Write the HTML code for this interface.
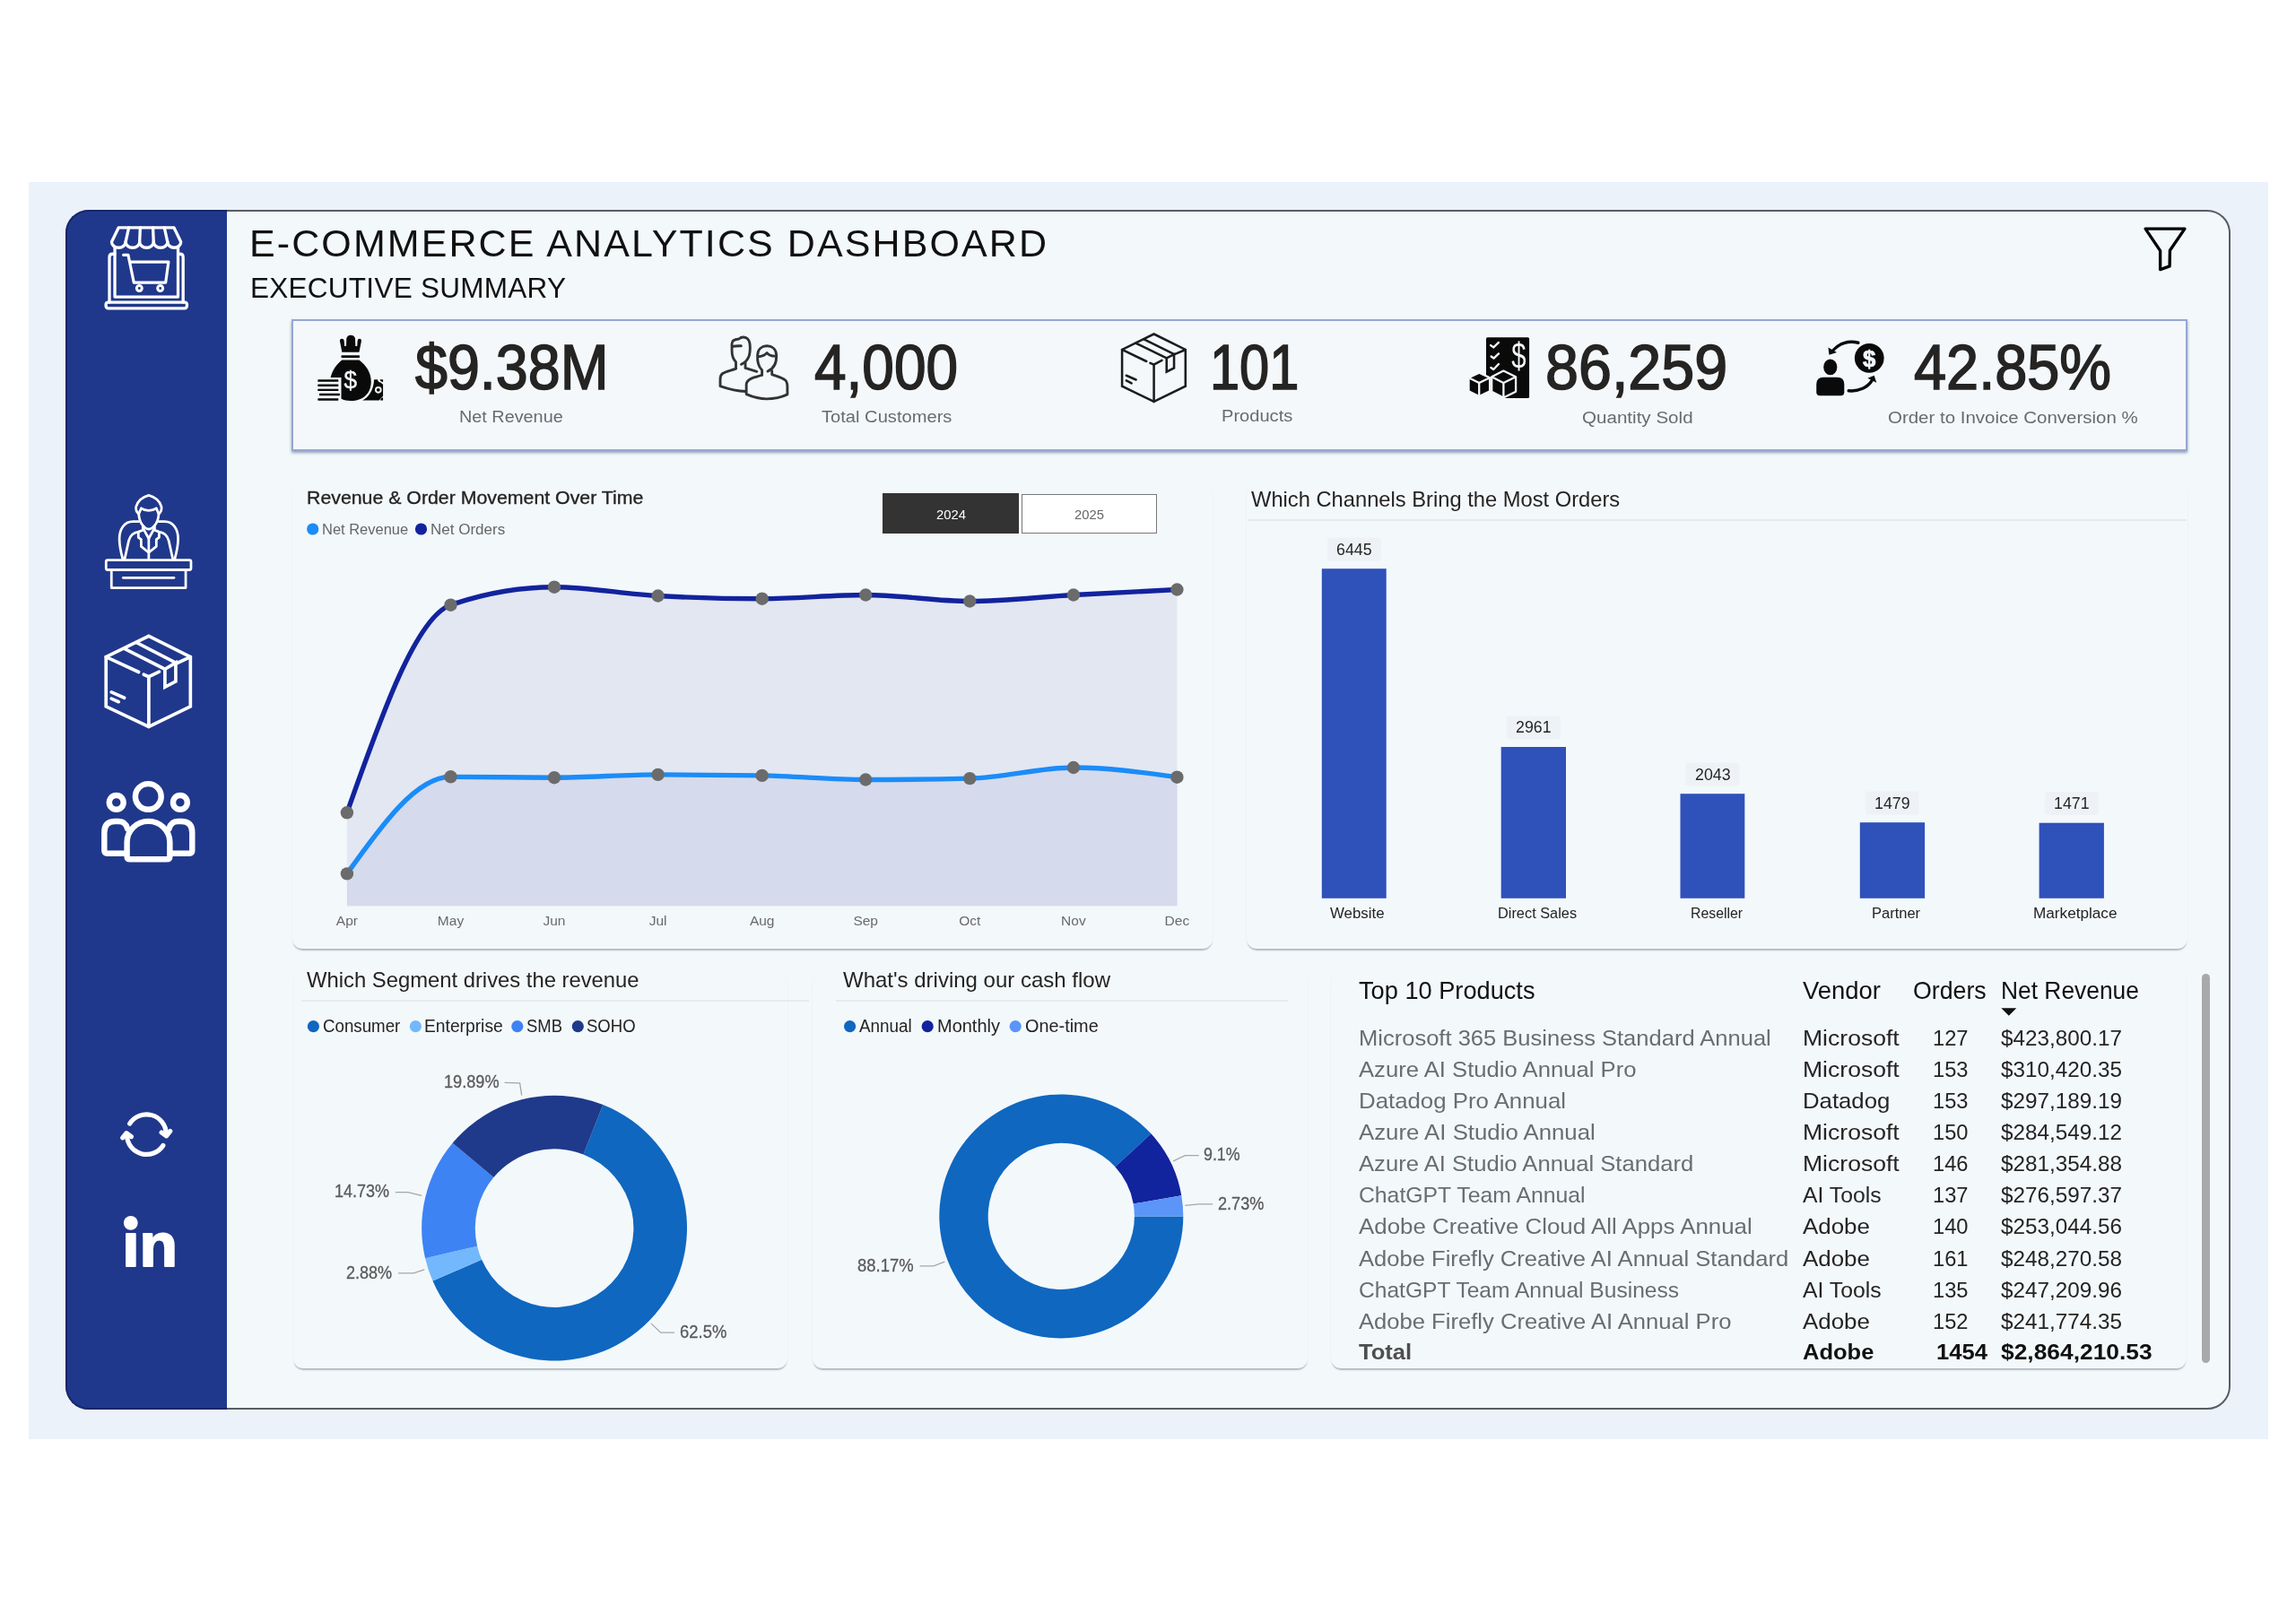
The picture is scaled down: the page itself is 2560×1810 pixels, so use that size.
<!DOCTYPE html>
<html lang="en"><head><meta charset="utf-8"><title>E-Commerce Analytics Dashboard - Executive Summary</title>
<style>
html,body{margin:0;padding:0}
body{width:2560px;height:1810px;position:relative;overflow:hidden;background:#ffffff;font-family:"Liberation Sans", Arial, sans-serif}
.abs,.ic,.t,.card{position:absolute}
.ic{overflow:visible}
.t{white-space:nowrap;line-height:1;transform-origin:0 50%}
#outer{left:32px;top:203px;width:2497px;height:1402px;background:#ebf2fa}
#frame{left:73px;top:234px;width:2414px;height:1338px;box-sizing:border-box;border:2px solid #565d64;border-radius:26px;background:#f3f8fb}
#side{left:72.5px;top:234px;width:180px;height:1338px;box-sizing:border-box;background:#20388b;border:2px solid #17276c;border-right:0;border-radius:26px 0 0 26px}
#kpi{left:325px;top:356px;width:2114px;height:147px;box-sizing:border-box;border:2px solid #96a7d1;background:#f4f8fb;box-shadow:0 2px 3px rgba(70,85,130,.55)}
.card{border-radius:11px;box-shadow:0 2.5px 1.5px -1px rgba(110,120,130,.48),1.5px 0 2px -1.5px rgba(0,0,0,.06),-1.5px 0 2px -1.5px rgba(0,0,0,.06)}
.hr{position:absolute;height:1.5px;background:#e6eaee}
#texts{position:absolute;left:0;top:0;width:2560px;height:1810px;will-change:transform}
.btn{position:absolute;box-sizing:border-box;top:550px;height:45px}
</style></head><body>
<div id="outer" class="abs"></div>
<div id="frame" class="abs"></div>
<div id="side" class="abs"></div>
<div id="kpi" class="abs"></div>
<div class="card" style="left:326px;top:540px;width:1025.5px;height:517.5px"></div>
<div class="card" style="left:1390px;top:540px;width:1049px;height:517.5px"></div>
<div class="card" style="left:327px;top:1085px;width:551px;height:441px"></div>
<div class="card" style="left:905.5px;top:1085px;width:552.5px;height:441px"></div>
<div class="card" style="left:1483.5px;top:1085px;width:954px;height:441px"></div>
<div class="hr" style="left:1391px;top:579px;width:1047px"></div>
<div class="hr" style="left:336px;top:1115px;width:566px"></div>
<div class="hr" style="left:931.5px;top:1115px;width:504px"></div>
<div class="btn" style="left:984px;width:151.8px;background:#333333"></div>
<div class="btn" style="left:1139px;top:551px;height:43.6px;width:151px;background:#ffffff;border:1.6px solid #787878"></div>
<div class="abs" style="left:2455px;top:1086px;width:9px;height:434px;border-radius:4.5px;background:#a9a9a9"></div>
<svg class="ic" style="left:0;top:0" width="2560" height="1810" viewBox="0 0 2560 1810">
<path d="M386.9 906.3C425.4 797.2 464.0 688.0 502.5 674.7C541.0 661.4 579.5 654.7 618.0 654.7C656.5 654.7 695.1 662.4 733.6 664.5C772.3 666.6 811.0 667.7 849.7 667.7C888.2 667.7 926.7 663.5 965.2 663.5C1003.9 663.5 1042.6 670.5 1081.3 670.5C1119.8 670.5 1158.4 665.7 1196.9 663.5C1235.4 661.3 1273.9 659.4 1312.4 657.5L1312.4 1010.3L386.9 1010.3Z" fill="#e3e7f1"/>
<path d="M386.9 974.4C425.4 920.4 464.0 866.3 502.5 866.3C541.0 866.3 579.5 867.2 618.0 867.2C656.5 867.2 695.1 863.9 733.6 863.9C772.3 863.9 811.0 864.2 849.7 864.9C888.2 865.6 926.7 869.5 965.2 869.5C1003.9 869.5 1042.6 869.0 1081.3 868.1C1119.8 867.2 1158.4 856.0 1196.9 856.0C1235.4 856.0 1273.9 861.4 1312.4 866.7L1312.4 1010.3L386.9 1010.3Z" fill="#d5daec"/>
<path d="M386.9 906.3C425.4 797.2 464.0 688.0 502.5 674.7C541.0 661.4 579.5 654.7 618.0 654.7C656.5 654.7 695.1 662.4 733.6 664.5C772.3 666.6 811.0 667.7 849.7 667.7C888.2 667.7 926.7 663.5 965.2 663.5C1003.9 663.5 1042.6 670.5 1081.3 670.5C1119.8 670.5 1158.4 665.7 1196.9 663.5C1235.4 661.3 1273.9 659.4 1312.4 657.5" fill="none" stroke="#12239e" stroke-width="5.4" stroke-linecap="round"/>
<path d="M386.9 974.4C425.4 920.4 464.0 866.3 502.5 866.3C541.0 866.3 579.5 867.2 618.0 867.2C656.5 867.2 695.1 863.9 733.6 863.9C772.3 863.9 811.0 864.2 849.7 864.9C888.2 865.6 926.7 869.5 965.2 869.5C1003.9 869.5 1042.6 869.0 1081.3 868.1C1119.8 867.2 1158.4 856.0 1196.9 856.0C1235.4 856.0 1273.9 861.4 1312.4 866.7" fill="none" stroke="#1b8cf8" stroke-width="5.4" stroke-linecap="round"/>
<g fill="#6b6b6b"><circle cx="386.9" cy="906.3" r="7.2"/><circle cx="502.5" cy="674.7" r="7.2"/><circle cx="618" cy="654.7" r="7.2"/><circle cx="733.6" cy="664.5" r="7.2"/><circle cx="849.7" cy="667.7" r="7.2"/><circle cx="965.2" cy="663.5" r="7.2"/><circle cx="1081.3" cy="670.5" r="7.2"/><circle cx="1196.9" cy="663.5" r="7.2"/><circle cx="1312.4" cy="657.5" r="7.2"/><circle cx="386.9" cy="974.4" r="7.2"/><circle cx="502.5" cy="866.3" r="7.2"/><circle cx="618" cy="867.2" r="7.2"/><circle cx="733.6" cy="863.9" r="7.2"/><circle cx="849.7" cy="864.9" r="7.2"/><circle cx="965.2" cy="869.5" r="7.2"/><circle cx="1081.3" cy="868.1" r="7.2"/><circle cx="1196.9" cy="856.0" r="7.2"/><circle cx="1312.4" cy="866.7" r="7.2"/></g><g fill="#2f51ba"><rect x="1473.8" y="634.2" width="71.9" height="367.6"/><rect x="1673.7" y="833.0" width="72.3" height="168.8"/><rect x="1873.5" y="885.2" width="71.8" height="116.6"/><rect x="2073.8" y="917.2" width="72.3" height="84.6"/><rect x="2273.6" y="917.7" width="72.3" height="84.1"/></g><g fill="#eef2f6"><rect x="1479.8" y="599.6" width="60" height="26" rx="4"/><rect x="1679.8" y="798.4" width="60" height="26" rx="4"/><rect x="1879.4" y="850.6" width="60" height="26" rx="4"/><rect x="2079.9" y="882.6" width="60" height="26" rx="4"/><rect x="2279.8" y="883.1" width="60" height="26" rx="4"/></g><path d="M672.31 1231.99A147.9 147.9 0 1 1 482.47 1428.57L537.12 1404.81A88.3 88.3 0 1 0 650.46 1287.44Z" fill="#0f67c0"/><path d="M482.47 1428.57A147.9 147.9 0 0 1 474.07 1403.20L532.11 1389.66A88.3 88.3 0 0 0 537.12 1404.81Z" fill="#73b8fc"/><path d="M474.07 1403.20A147.9 147.9 0 0 1 504.63 1274.74L550.36 1312.96A88.3 88.3 0 0 0 532.11 1389.66Z" fill="#3d83f4"/><path d="M504.63 1274.74A147.9 147.9 0 0 1 672.31 1231.99L650.46 1287.44A88.3 88.3 0 0 0 550.36 1312.96Z" fill="#1f3a8a"/><path d="M1319.30 1356.40A136.0 136.0 0 1 1 1283.43 1264.37L1243.38 1301.18A81.6 81.6 0 1 0 1264.90 1356.40Z" fill="#0f67c0"/><path d="M1283.43 1264.37A136.0 136.0 0 0 1 1317.30 1333.19L1263.70 1342.47A81.6 81.6 0 0 0 1243.38 1301.18Z" fill="#12239e"/><path d="M1317.30 1333.19A136.0 136.0 0 0 1 1319.30 1356.40L1264.90 1356.40A81.6 81.6 0 0 0 1263.70 1342.47Z" fill="#5a95f7"/><g fill="none" stroke="#a6a6a6" stroke-width="1.3"><polyline points="562.6,1207.3 579.6,1207.9 581.7,1221.7"/><polyline points="440.9,1329.6 454.8,1329.6 470.2,1333.3"/><polyline points="444,1419.9 461,1419.9 473.3,1415.8"/><polyline points="725.9,1475.9 736.7,1486.1 752.1,1486.1"/><polyline points="1308.1,1294.8 1321.3,1288.6 1336.7,1288.6"/><polyline points="1321.3,1344.4 1336.7,1342.8 1352.1,1342.8"/><polyline points="1025.6,1411.8 1041,1411.8 1053.3,1407.2"/></g><circle cx="348.7" cy="590" r="6.6" fill="#1b8cf8"/><circle cx="469.5" cy="590" r="6.6" fill="#12239e"/><circle cx="349.4" cy="1144.7" r="6.6" fill="#0f67c0"/><circle cx="463.4" cy="1144.7" r="6.6" fill="#73b8fc"/><circle cx="576.8" cy="1144.7" r="6.6" fill="#3d83f4"/><circle cx="644.3" cy="1144.7" r="6.6" fill="#1f3a8a"/><circle cx="947.6" cy="1144.7" r="6.6" fill="#0f67c0"/><circle cx="1034.2" cy="1144.7" r="6.6" fill="#12239e"/><circle cx="1132.2" cy="1144.7" r="6.6" fill="#5a95f7"/><path d="M2231.3 1124.2H2248.3L2239.8 1132.7Z" fill="#111"/></svg>
<div id="texts">
<svg class="ic" style="left:105px;top:240px" width="120" height="115" viewBox="0 0 1694 1623" >
<g fill="none" stroke="#ffffff" stroke-width="47" stroke-linejoin="round" stroke-linecap="round">
<path d="M385 195H1255L1365 420A105 92 0 0 1 1155 420A110 92 0 0 1 935 420A110 92 0 0 1 715 420A110 92 0 0 1 495 420A110 92 0 0 1 275 420Z"/>
<path d="M545 195L495 420M725 195L715 420M925 195L935 420M1105 195L1155 420"/>
<path d="M325 500V1285H1320V500"/>
<path d="M325 610H290Q240 610 240 660V1370M1320 610H1350Q1400 610 1400 660V1370"/>
<rect x="185" y="1370" width="1275" height="95" rx="35"/>
<path d="M460 625H535L625 1060H1125L1170 735H570" stroke-width="45"/>
<circle cx="710" cy="1150" r="42" stroke-width="42"/>
<circle cx="1040" cy="1150" r="42" stroke-width="42"/>
</g></svg>
<svg class="ic" style="left:105px;top:540px" width="120" height="125" viewBox="0 0 1558 1623" >
<g fill="none" stroke="#ffffff" stroke-width="36" stroke-linejoin="round" stroke-linecap="round">
<path d="M645 430C610 400 600 360 607 325C625 250 700 180 790 160C880 180 955 250 973 325C980 360 970 400 935 430"/>
<path d="M680 350C740 390 840 390 900 350"/>
<path d="M680 350L645 430C650 500 670 560 705 600C740 640 770 652 790 652C810 652 840 640 875 600C910 560 930 500 935 430L900 350"/>
<path d="M645 540H560C430 540 365 660 365 790C365 900 390 1000 415 1090"/>
<path d="M935 540H1020C1150 540 1215 660 1215 790C1215 900 1190 1000 1165 1090"/>
<path d="M440 1090L500 820C520 740 570 700 640 690L705 665V600"/>
<path d="M1140 1090L1080 820C1060 740 1010 700 940 690L875 665V600"/>
<path d="M715 650L790 785L865 650"/>
<path d="M640 695V770L680 800V900L790 990L900 900V800L940 770V695"/>
<path d="M790 785V1090"/>
<rect x="172" y="1100" width="1230" height="140" rx="22"/>
<path d="M250 1240V1500H1325V1240"/>
<path d="M420 1355H1155"/>
</g></svg>
<svg class="ic" style="left:105px;top:695px" width="120" height="130" viewBox="0 0 1498 1623" >
<g fill="none" stroke="#ffffff" stroke-width="46" stroke-linejoin="miter" stroke-linecap="round">
<path d="M760 180L1340 470V1160L760 1440L165 1160V470Z"/>
<path d="M165 470L620 680M690 715L760 745L905 675M1135 565L1340 470"/>
<path d="M760 745V1440"/>
<path d="M590 270L1135 550M420 355L985 640"/>
<path d="M985 640V890L1135 810V550L985 640"/>
<path d="M240 960L420 1040M240 1050L340 1095"/></g></svg>
<svg class="ic" style="left:105px;top:860px" width="120" height="110" viewBox="0 0 1771 1623" >
<g fill="none" stroke="#ffffff" stroke-width="95" stroke-linejoin="round" stroke-linecap="round">
<circle cx="890" cy="420" r="212"/>
<circle cx="365" cy="515" r="117"/>
<circle cx="1415" cy="515" r="117"/>
<path d="M540 1400V1170A352 345 0 0 1 1245 1170V1400Q1245 1450 1195 1450H590Q540 1450 540 1400Z"/>
<path d="M520 1353H215Q167 1353 167 1305V1010Q167 827 345 827H400Q520 827 548 950"/>
<path d="M1260 1353H1565Q1613 1353 1613 1305V1010Q1613 827 1435 827H1380Q1260 827 1232 950"/>
</g></svg>
<svg class="ic" style="left:120px;top:1225px" width="90" height="80" viewBox="0 0 1826 1623" >
<g fill="none" stroke="#ffffff" stroke-width="105" stroke-linejoin="round" stroke-linecap="round">
<path d="M500 570A447 447 0 0 1 1325 800"/>
<path d="M1255 1065A447 447 0 0 1 435 840"/>
<path d="M1220 770L1330 850L1415 740"/>
<path d="M340 890L425 785L535 865"/>
</g></svg>
<svg class="ic" style="left:120px;top:1340px" width="90" height="90" viewBox="0 0 1623 1623" >
<text x="293" y="1292" font-family="Liberation Sans, Arial, sans-serif" font-weight="700" font-size="1230" fill="#ffffff" stroke="#ffffff" stroke-width="36" stroke-linejoin="round" textLength="1114" lengthAdjust="spacingAndGlyphs">in</text>
<rect x="330" y="250" width="300" height="330" fill="#20388b"/>
<circle cx="465" cy="430" r="142" fill="#ffffff"/></svg>
<svg class="ic" style="left:2340px;top:200px" width="220" height="170" viewBox="0 0 2100 1623" >
<path d="M497 526H916L758 757L755 925L655 960V760Z" fill="none" stroke="#000" stroke-width="32" stroke-linejoin="round"/></svg>
<svg class="ic" style="left:345px;top:365px" width="90" height="90" viewBox="0 0 1623 1623" >
<g fill="#0a0a0a">
<path d="M655 500L612 275Q610 235 650 232Q695 235 698 270L705 380H740L745 225Q760 165 830 160Q905 165 920 225L925 380H960L967 270Q970 235 1010 232Q1048 235 1045 275L1000 500Z"/>
<rect x="640" y="565" width="370" height="46" rx="12"/>
<path d="M655 660H1000C1130 760 1240 900 1240 1090C1240 1330 1080 1480 830 1480C760 1480 690 1465 640 1440V1010H425C470 850 550 740 655 660Z"/>
<rect x="168" y="1052" width="415" height="44" rx="10"/>
<rect x="168" y="1145" width="415" height="44" rx="10"/>
<rect x="168" y="1238" width="415" height="44" rx="10"/>
<rect x="198" y="1332" width="415" height="44" rx="10"/>
<rect x="168" y="1428" width="415" height="44" rx="10"/>
<path d="M1300 1050H1370C1375 1085 1400 1105 1430 1110L1480 1150V1385L1400 1470H1065C1200 1400 1290 1260 1300 1050Z"/>
<path d="M1415 1050H1480V1105Q1425 1100 1415 1050Z"/>
<path d="M1480 1410V1470H1425Q1430 1420 1480 1410Z"/>
</g>
<circle cx="1385" cy="1260" r="52" fill="none" stroke="#f4f8fb" stroke-width="34"/>
<text x="825" y="1222" text-anchor="middle" font-family="Liberation Sans, Arial, sans-serif" font-size="515" fill="#f4f8fb" stroke="#f4f8fb" stroke-width="7" textLength="262" lengthAdjust="spacingAndGlyphs">$</text></svg>
<svg class="ic" style="left:795px;top:365px" width="90" height="90" viewBox="0 0 1623 1623" >
<g fill="none" stroke="#333333" stroke-width="52" stroke-linejoin="round" stroke-linecap="round">
<path d="M460 830V700C400 640 380 560 380 470V330C380 260 440 240 520 235C560 200 620 195 660 210C720 235 745 300 745 400C745 520 740 660 570 745"/>
<path d="M390 385C430 378 500 370 565 375"/>
<path d="M650 715V820L880 890"/>
<path d="M460 830C350 870 250 890 190 930C150 960 145 1000 145 1050V1185C300 1240 450 1285 660 1290"/>
<path d="M985 960V860C900 780 890 650 895 560C900 430 990 375 1085 375C1180 375 1270 430 1275 560C1280 700 1250 820 1100 885"/>
<path d="M910 590C980 590 1040 560 1085 515C1120 560 1180 580 1250 580"/>
<path d="M1185 880V950C1300 990 1400 1020 1450 1060C1490 1095 1495 1150 1495 1200V1350C1350 1420 1200 1440 1075 1440C950 1440 800 1400 670 1345V1150C670 1080 720 1050 790 1020C850 1000 930 980 985 960"/>
</g></svg>
<svg class="ic" style="left:1240px;top:365px" width="95" height="90" viewBox="0 0 1713 1623" >
<g fill="none" stroke="#1c1c1c" stroke-width="46" stroke-linejoin="miter" stroke-linecap="round">
<path d="M840 135L1475 450V1185L840 1495L200 1185V450Z"/>
<path d="M200 450L690 685M765 720L840 750L1000 665M1255 542L1475 450"/>
<path d="M840 750V1495"/>
<path d="M640 240L1250 545M480 320L1095 620"/>
<path d="M1095 620V895L1245 820V545L1095 620"/>
<path d="M285 970L480 1055M285 1070L390 1125"/>
</g></svg>
<svg class="ic" style="left:1628px;top:368px" width="86" height="84" viewBox="0 0 1662 1623" >
<rect x="560" y="160" width="930" height="1310" rx="30" fill="#0a0a0a"/>
<g fill="none" stroke="#f4f8fb" stroke-width="46" stroke-linecap="round" stroke-linejoin="round">
<path d="M660 330L720 375L830 270M670 570L725 610L830 510M665 810L720 850L830 735"/>
</g>
<text x="1265" y="838" text-anchor="middle" font-family="Liberation Sans, Arial, sans-serif" font-size="790" fill="#f4f8fb" textLength="315" lengthAdjust="spacingAndGlyphs">$</text>
<path d="M530 1320L680 1330L935 1460L1005 1490H530Z" fill="#f4f8fb"/>
<g fill="#0a0a0a" stroke="#f4f8fb" stroke-width="44" stroke-linejoin="round">
<path d="M935 880L1200 1010V1330L935 1460L680 1330V1010Z"/>
<path d="M410 920L640 1030V1320L410 1430L185 1320V1030Z"/>
<path d="M680 1010L935 1140L1200 1010M935 1140V1460" fill="none"/>
<path d="M185 1030L410 1140L640 1030M410 1140V1430" fill="none"/>
</g></svg>
<svg class="ic" style="left:2018px;top:368px" width="90" height="84" viewBox="0 0 1739 1623" >
<g fill="#0a0a0a">
<ellipse cx="440" cy="800" rx="146" ry="172"/>
<path d="M290 1020H590Q740 1020 740 1170V1340Q740 1415 665 1415H215Q140 1415 140 1340V1170Q140 1020 290 1020Z"/>
<circle cx="1280" cy="605" r="316"/>
<path d="M395 375L580 485L415 535Z"/>
<path d="M1245 1040L1385 980L1435 1135Z"/>
</g>
<g fill="none" stroke="#0a0a0a" stroke-width="66" stroke-linecap="round">
<path d="M1040 275C830 220 620 290 490 450"/>
<path d="M835 1310C1050 1330 1250 1240 1345 1075"/>
</g>
<text x="1280" y="790" text-anchor="middle" font-family="Liberation Sans, Arial, sans-serif" font-weight="700" font-size="500" fill="#f4f8fb" stroke="#f4f8fb" stroke-width="14">$</text></svg>
<span class="t" id="t0" style="font-size:43px;color:#111111;top:249.70px;letter-spacing:2.094px;left:278.00px;">E-COMMERCE ANALYTICS DASHBOARD</span>
<span class="t" id="t1" style="font-size:31.5px;color:#111111;top:305.74px;letter-spacing:0.267px;left:279.00px;">EXECUTIVE SUMMARY</span>
<span class="t" id="t2" style="font-size:70px;color:#252423;top:374.94px;-webkit-text-stroke:1.6px #252423;transform:scaleX(0.9230);left:463.00px;">$9.38M</span>
<span class="t" id="t3" style="font-size:70px;color:#252423;top:374.94px;-webkit-text-stroke:1.6px #252423;transform:scaleX(0.9134);left:908.00px;">4,000</span>
<span class="t" id="t4" style="font-size:70px;color:#252423;top:374.94px;-webkit-text-stroke:1.6px #252423;transform:scaleX(0.8502);left:1349.20px;">101</span>
<span class="t" id="t5" style="font-size:70px;color:#252423;top:374.94px;-webkit-text-stroke:1.6px #252423;transform:scaleX(0.9490);left:1723.00px;">86,259</span>
<span class="t" id="t6" style="font-size:70px;color:#252423;top:374.94px;-webkit-text-stroke:1.6px #252423;transform:scaleX(0.9266);left:2133.50px;">42.85%</span>
<span class="t" id="t7" style="font-size:19.2px;color:#666b6f;top:455.25px;transform:scaleX(1.0330);left:512.00px;">Net Revenue</span>
<span class="t" id="t8" style="font-size:19.2px;color:#666b6f;top:455.45px;transform:scaleX(1.0489);left:915.70px;">Total Customers</span>
<span class="t" id="t9" style="font-size:19.2px;color:#666b6f;top:453.85px;transform:scaleX(1.0471);left:1362.30px;">Products</span>
<span class="t" id="t10" style="font-size:19.2px;color:#666b6f;top:455.95px;transform:scaleX(1.0729);left:1763.70px;">Quantity Sold</span>
<span class="t" id="t11" style="font-size:19.2px;color:#666b6f;top:455.95px;transform:scaleX(1.0667);left:2104.90px;">Order to Invoice Conversion %</span>
<span class="t" id="t12" style="font-size:20.5px;color:#252423;top:544.85px;-webkit-text-stroke:0.35px #252423;transform:scaleX(1.0394);left:341.70px;">Revenue &amp; Order Movement Over Time</span>
<span class="t" id="t13" style="font-size:17px;color:#666666;top:581.71px;transform:scaleX(0.9694);left:358.90px;">Net Revenue</span>
<span class="t" id="t14" style="font-size:17px;color:#666666;top:581.71px;left:480.00px;">Net Orders</span>
<span class="t" id="t15" style="font-size:15.5px;color:#ffffff;top:566.08px;transform:scaleX(0.9570);left:1043.80px;">2024</span>
<span class="t" id="t16" style="font-size:15.5px;color:#666666;top:566.08px;transform:scaleX(0.9570);left:1198.00px;">2025</span>
<span class="t" id="t17" style="font-size:15.5px;color:#6a6a6a;top:1018.68px;left:374.84px;">Apr</span>
<span class="t" id="t18" style="font-size:15.5px;color:#6a6a6a;top:1018.68px;left:487.85px;">May</span>
<span class="t" id="t19" style="font-size:15.5px;color:#6a6a6a;top:1018.68px;left:605.50px;">Jun</span>
<span class="t" id="t20" style="font-size:15.5px;color:#6a6a6a;top:1018.68px;left:723.69px;">Jul</span>
<span class="t" id="t21" style="font-size:15.5px;color:#6a6a6a;top:1018.68px;left:835.90px;">Aug</span>
<span class="t" id="t22" style="font-size:15.5px;color:#6a6a6a;top:1018.68px;left:951.40px;">Sep</span>
<span class="t" id="t23" style="font-size:15.5px;color:#6a6a6a;top:1018.68px;left:1069.24px;">Oct</span>
<span class="t" id="t24" style="font-size:15.5px;color:#6a6a6a;top:1018.68px;left:1183.11px;">Nov</span>
<span class="t" id="t25" style="font-size:15.5px;color:#6a6a6a;top:1018.68px;left:1298.61px;">Dec</span>
<span class="t" id="t26" style="font-size:23.2px;color:#252423;top:546.26px;transform:scaleX(1.0226);left:1395.00px;">Which Channels Bring the Most Orders</span>
<span class="t" id="t27" style="font-size:18.5px;color:#252423;top:603.54px;transform:scaleX(0.9598);left:1490.00px;">6445</span>
<span class="t" id="t28" style="font-size:17.4px;color:#252423;top:1010.07px;transform:scaleX(0.9678);left:1483.25px;">Website</span>
<span class="t" id="t29" style="font-size:18.5px;color:#252423;top:802.34px;transform:scaleX(0.9598);left:1690.10px;">2961</span>
<span class="t" id="t30" style="font-size:17.4px;color:#252423;top:1010.07px;transform:scaleX(0.9397);left:1669.75px;">Direct Sales</span>
<span class="t" id="t31" style="font-size:18.5px;color:#252423;top:854.54px;transform:scaleX(0.9598);left:1889.65px;">2043</span>
<span class="t" id="t32" style="font-size:17.4px;color:#252423;top:1010.07px;transform:scaleX(0.9107);left:1884.75px;">Reseller</span>
<span class="t" id="t33" style="font-size:18.5px;color:#252423;top:886.54px;transform:scaleX(0.9598);left:2090.20px;">1479</span>
<span class="t" id="t34" style="font-size:17.4px;color:#252423;top:1010.07px;transform:scaleX(0.9486);left:2086.55px;">Partner</span>
<span class="t" id="t35" style="font-size:18.5px;color:#252423;top:887.04px;transform:scaleX(0.9598);left:2290.00px;">1471</span>
<span class="t" id="t36" style="font-size:17.4px;color:#252423;top:1010.07px;transform:scaleX(0.9870);left:2267.25px;">Marketplace</span>
<span class="t" id="t37" style="font-size:23.2px;color:#252423;top:1082.36px;transform:scaleX(1.0269);left:342.20px;">Which Segment drives the revenue</span>
<span class="t" id="t38" style="font-size:19.5px;color:#252423;top:1135.19px;transform:scaleX(0.9594);left:360.20px;">Consumer</span>
<span class="t" id="t39" style="font-size:19.5px;color:#252423;top:1135.19px;transform:scaleX(0.9868);left:473.30px;">Enterprise</span>
<span class="t" id="t40" style="font-size:19.5px;color:#252423;top:1135.19px;transform:scaleX(0.9464);left:587.30px;">SMB</span>
<span class="t" id="t41" style="font-size:19.5px;color:#252423;top:1135.19px;transform:scaleX(0.9506);left:654.40px;">SOHO</span>
<span class="t" id="t42" style="font-size:19.6px;color:#5a5a5a;top:1196.96px;-webkit-text-stroke:0.3px #5a5a5a;transform:scaleX(0.9268);left:494.90px;">19.89%</span>
<span class="t" id="t43" style="font-size:19.6px;color:#5a5a5a;top:1319.36px;-webkit-text-stroke:0.3px #5a5a5a;transform:scaleX(0.9177);left:373.20px;">14.73%</span>
<span class="t" id="t44" style="font-size:19.6px;color:#5a5a5a;top:1410.16px;-webkit-text-stroke:0.3px #5a5a5a;transform:scaleX(0.9197);left:386.10px;">2.88%</span>
<span class="t" id="t45" style="font-size:19.6px;color:#5a5a5a;top:1476.16px;-webkit-text-stroke:0.3px #5a5a5a;transform:scaleX(0.9413);left:758.30px;">62.5%</span>
<span class="t" id="t46" style="font-size:23.2px;color:#252423;top:1082.36px;transform:scaleX(1.0349);left:940.20px;">What's driving our cash flow</span>
<span class="t" id="t47" style="font-size:19.5px;color:#252423;top:1135.19px;transform:scaleX(0.9684);left:958.40px;">Annual</span>
<span class="t" id="t48" style="font-size:19.5px;color:#252423;top:1135.19px;transform:scaleX(1.0237);left:1045.00px;">Monthly</span>
<span class="t" id="t49" style="font-size:19.5px;color:#252423;top:1135.19px;transform:scaleX(1.0187);left:1142.60px;">One-time</span>
<span class="t" id="t50" style="font-size:19.6px;color:#5a5a5a;top:1278.36px;-webkit-text-stroke:0.3px #5a5a5a;transform:scaleX(0.9088);left:1342.30px;">9.1%</span>
<span class="t" id="t51" style="font-size:19.6px;color:#5a5a5a;top:1332.86px;-webkit-text-stroke:0.3px #5a5a5a;transform:scaleX(0.9251);left:1357.70px;">2.73%</span>
<span class="t" id="t52" style="font-size:19.6px;color:#5a5a5a;top:1401.56px;-webkit-text-stroke:0.3px #5a5a5a;transform:scaleX(0.9418);left:956.20px;">88.17%</span>
<span class="t" id="t53" style="font-size:27.4px;color:#111111;top:1090.51px;transform:scaleX(0.9927);left:1514.90px;">Top 10 Products</span>
<span class="t" id="t54" style="font-size:27.4px;color:#111111;top:1090.51px;transform:scaleX(1.0022);left:2009.70px;">Vendor</span>
<span class="t" id="t55" style="font-size:27.4px;color:#111111;top:1090.51px;transform:scaleX(0.9759);left:2133.00px;">Orders</span>
<span class="t" id="t56" style="font-size:27.4px;color:#111111;top:1090.51px;transform:scaleX(0.9625);left:2231.30px;">Net Revenue</span>
<span class="t" id="t57" style="font-size:24.8px;color:#696d71;top:1145.96px;transform:scaleX(1.0295);left:1514.90px;">Microsoft 365 Business Standard Annual</span>
<span class="t" id="t58" style="font-size:24.8px;color:#252423;top:1145.96px;transform:scaleX(1.0706);left:2009.70px;">Microsoft</span>
<span class="t" id="t59" style="font-size:24.8px;color:#252423;top:1145.96px;transform:scaleX(0.9547);left:2155.00px;">127</span>
<span class="t" id="t60" style="font-size:24.8px;color:#252423;top:1145.96px;transform:scaleX(0.9789);left:2231.30px;">$423,800.17</span>
<span class="t" id="t61" style="font-size:24.8px;color:#696d71;top:1181.04px;transform:scaleX(1.0346);left:1514.90px;">Azure AI Studio Annual Pro</span>
<span class="t" id="t62" style="font-size:24.8px;color:#252423;top:1181.04px;transform:scaleX(1.0706);left:2009.70px;">Microsoft</span>
<span class="t" id="t63" style="font-size:24.8px;color:#252423;top:1181.04px;transform:scaleX(0.9547);left:2155.00px;">153</span>
<span class="t" id="t64" style="font-size:24.8px;color:#252423;top:1181.04px;transform:scaleX(0.9789);left:2231.30px;">$310,420.35</span>
<span class="t" id="t65" style="font-size:24.8px;color:#696d71;top:1216.12px;transform:scaleX(1.0407);left:1514.90px;">Datadog Pro Annual</span>
<span class="t" id="t66" style="font-size:24.8px;color:#252423;top:1216.12px;transform:scaleX(1.0377);left:2009.70px;">Datadog</span>
<span class="t" id="t67" style="font-size:24.8px;color:#252423;top:1216.12px;transform:scaleX(0.9547);left:2155.00px;">153</span>
<span class="t" id="t68" style="font-size:24.8px;color:#252423;top:1216.12px;transform:scaleX(0.9789);left:2231.30px;">$297,189.19</span>
<span class="t" id="t69" style="font-size:24.8px;color:#696d71;top:1251.20px;transform:scaleX(1.0399);left:1514.90px;">Azure AI Studio Annual</span>
<span class="t" id="t70" style="font-size:24.8px;color:#252423;top:1251.20px;transform:scaleX(1.0706);left:2009.70px;">Microsoft</span>
<span class="t" id="t71" style="font-size:24.8px;color:#252423;top:1251.20px;transform:scaleX(0.9547);left:2155.00px;">150</span>
<span class="t" id="t72" style="font-size:24.8px;color:#252423;top:1251.20px;transform:scaleX(0.9789);left:2231.30px;">$284,549.12</span>
<span class="t" id="t73" style="font-size:24.8px;color:#696d71;top:1286.28px;transform:scaleX(1.0332);left:1514.90px;">Azure AI Studio Annual Standard</span>
<span class="t" id="t74" style="font-size:24.8px;color:#252423;top:1286.28px;transform:scaleX(1.0706);left:2009.70px;">Microsoft</span>
<span class="t" id="t75" style="font-size:24.8px;color:#252423;top:1286.28px;transform:scaleX(0.9547);left:2155.00px;">146</span>
<span class="t" id="t76" style="font-size:24.8px;color:#252423;top:1286.28px;transform:scaleX(0.9789);left:2231.30px;">$281,354.88</span>
<span class="t" id="t77" style="font-size:24.8px;color:#696d71;top:1321.36px;left:1514.90px;">ChatGPT Team Annual</span>
<span class="t" id="t78" style="font-size:24.8px;color:#252423;top:1321.36px;transform:scaleX(0.9970);left:2009.70px;">AI Tools</span>
<span class="t" id="t79" style="font-size:24.8px;color:#252423;top:1321.36px;transform:scaleX(0.9547);left:2155.00px;">137</span>
<span class="t" id="t80" style="font-size:24.8px;color:#252423;top:1321.36px;transform:scaleX(0.9789);left:2231.30px;">$276,597.37</span>
<span class="t" id="t81" style="font-size:24.8px;color:#696d71;top:1356.44px;transform:scaleX(1.0434);left:1514.90px;">Adobe Creative Cloud All Apps Annual</span>
<span class="t" id="t82" style="font-size:24.8px;color:#252423;top:1356.44px;transform:scaleX(1.0446);left:2009.70px;">Adobe</span>
<span class="t" id="t83" style="font-size:24.8px;color:#252423;top:1356.44px;transform:scaleX(0.9547);left:2155.00px;">140</span>
<span class="t" id="t84" style="font-size:24.8px;color:#252423;top:1356.44px;transform:scaleX(0.9789);left:2231.30px;">$253,044.56</span>
<span class="t" id="t85" style="font-size:24.8px;color:#696d71;top:1391.52px;transform:scaleX(1.0314);left:1514.90px;">Adobe Firefly Creative AI Annual Standard</span>
<span class="t" id="t86" style="font-size:24.8px;color:#252423;top:1391.52px;transform:scaleX(1.0446);left:2009.70px;">Adobe</span>
<span class="t" id="t87" style="font-size:24.8px;color:#252423;top:1391.52px;transform:scaleX(0.9547);left:2155.00px;">161</span>
<span class="t" id="t88" style="font-size:24.8px;color:#252423;top:1391.52px;transform:scaleX(0.9789);left:2231.30px;">$248,270.58</span>
<span class="t" id="t89" style="font-size:24.8px;color:#696d71;top:1426.60px;transform:scaleX(0.9913);left:1514.90px;">ChatGPT Team Annual Business</span>
<span class="t" id="t90" style="font-size:24.8px;color:#252423;top:1426.60px;transform:scaleX(0.9970);left:2009.70px;">AI Tools</span>
<span class="t" id="t91" style="font-size:24.8px;color:#252423;top:1426.60px;transform:scaleX(0.9547);left:2155.00px;">135</span>
<span class="t" id="t92" style="font-size:24.8px;color:#252423;top:1426.60px;transform:scaleX(0.9789);left:2231.30px;">$247,209.96</span>
<span class="t" id="t93" style="font-size:24.8px;color:#696d71;top:1461.68px;transform:scaleX(1.0321);left:1514.90px;">Adobe Firefly Creative AI Annual Pro</span>
<span class="t" id="t94" style="font-size:24.8px;color:#252423;top:1461.68px;transform:scaleX(1.0446);left:2009.70px;">Adobe</span>
<span class="t" id="t95" style="font-size:24.8px;color:#252423;top:1461.68px;transform:scaleX(0.9547);left:2155.00px;">152</span>
<span class="t" id="t96" style="font-size:24.8px;color:#252423;top:1461.68px;transform:scaleX(0.9789);left:2231.30px;">$241,774.35</span>
<span class="t" id="t97" style="font-size:24.8px;color:#4e4e4e;top:1495.71px;font-weight:700;transform:scaleX(1.0312);left:1514.90px;">Total</span>
<span class="t" id="t98" style="font-size:24.8px;color:#111111;top:1495.71px;font-weight:700;transform:scaleX(1.0293);left:2009.70px;">Adobe</span>
<span class="t" id="t99" style="font-size:24.8px;color:#111111;top:1495.71px;font-weight:700;transform:scaleX(1.0331);left:2158.60px;">1454</span>
<span class="t" id="t100" style="font-size:24.8px;color:#111111;top:1495.71px;font-weight:700;transform:scaleX(1.0638);left:2231.30px;">$2,864,210.53</span>
</div>
</body></html>
